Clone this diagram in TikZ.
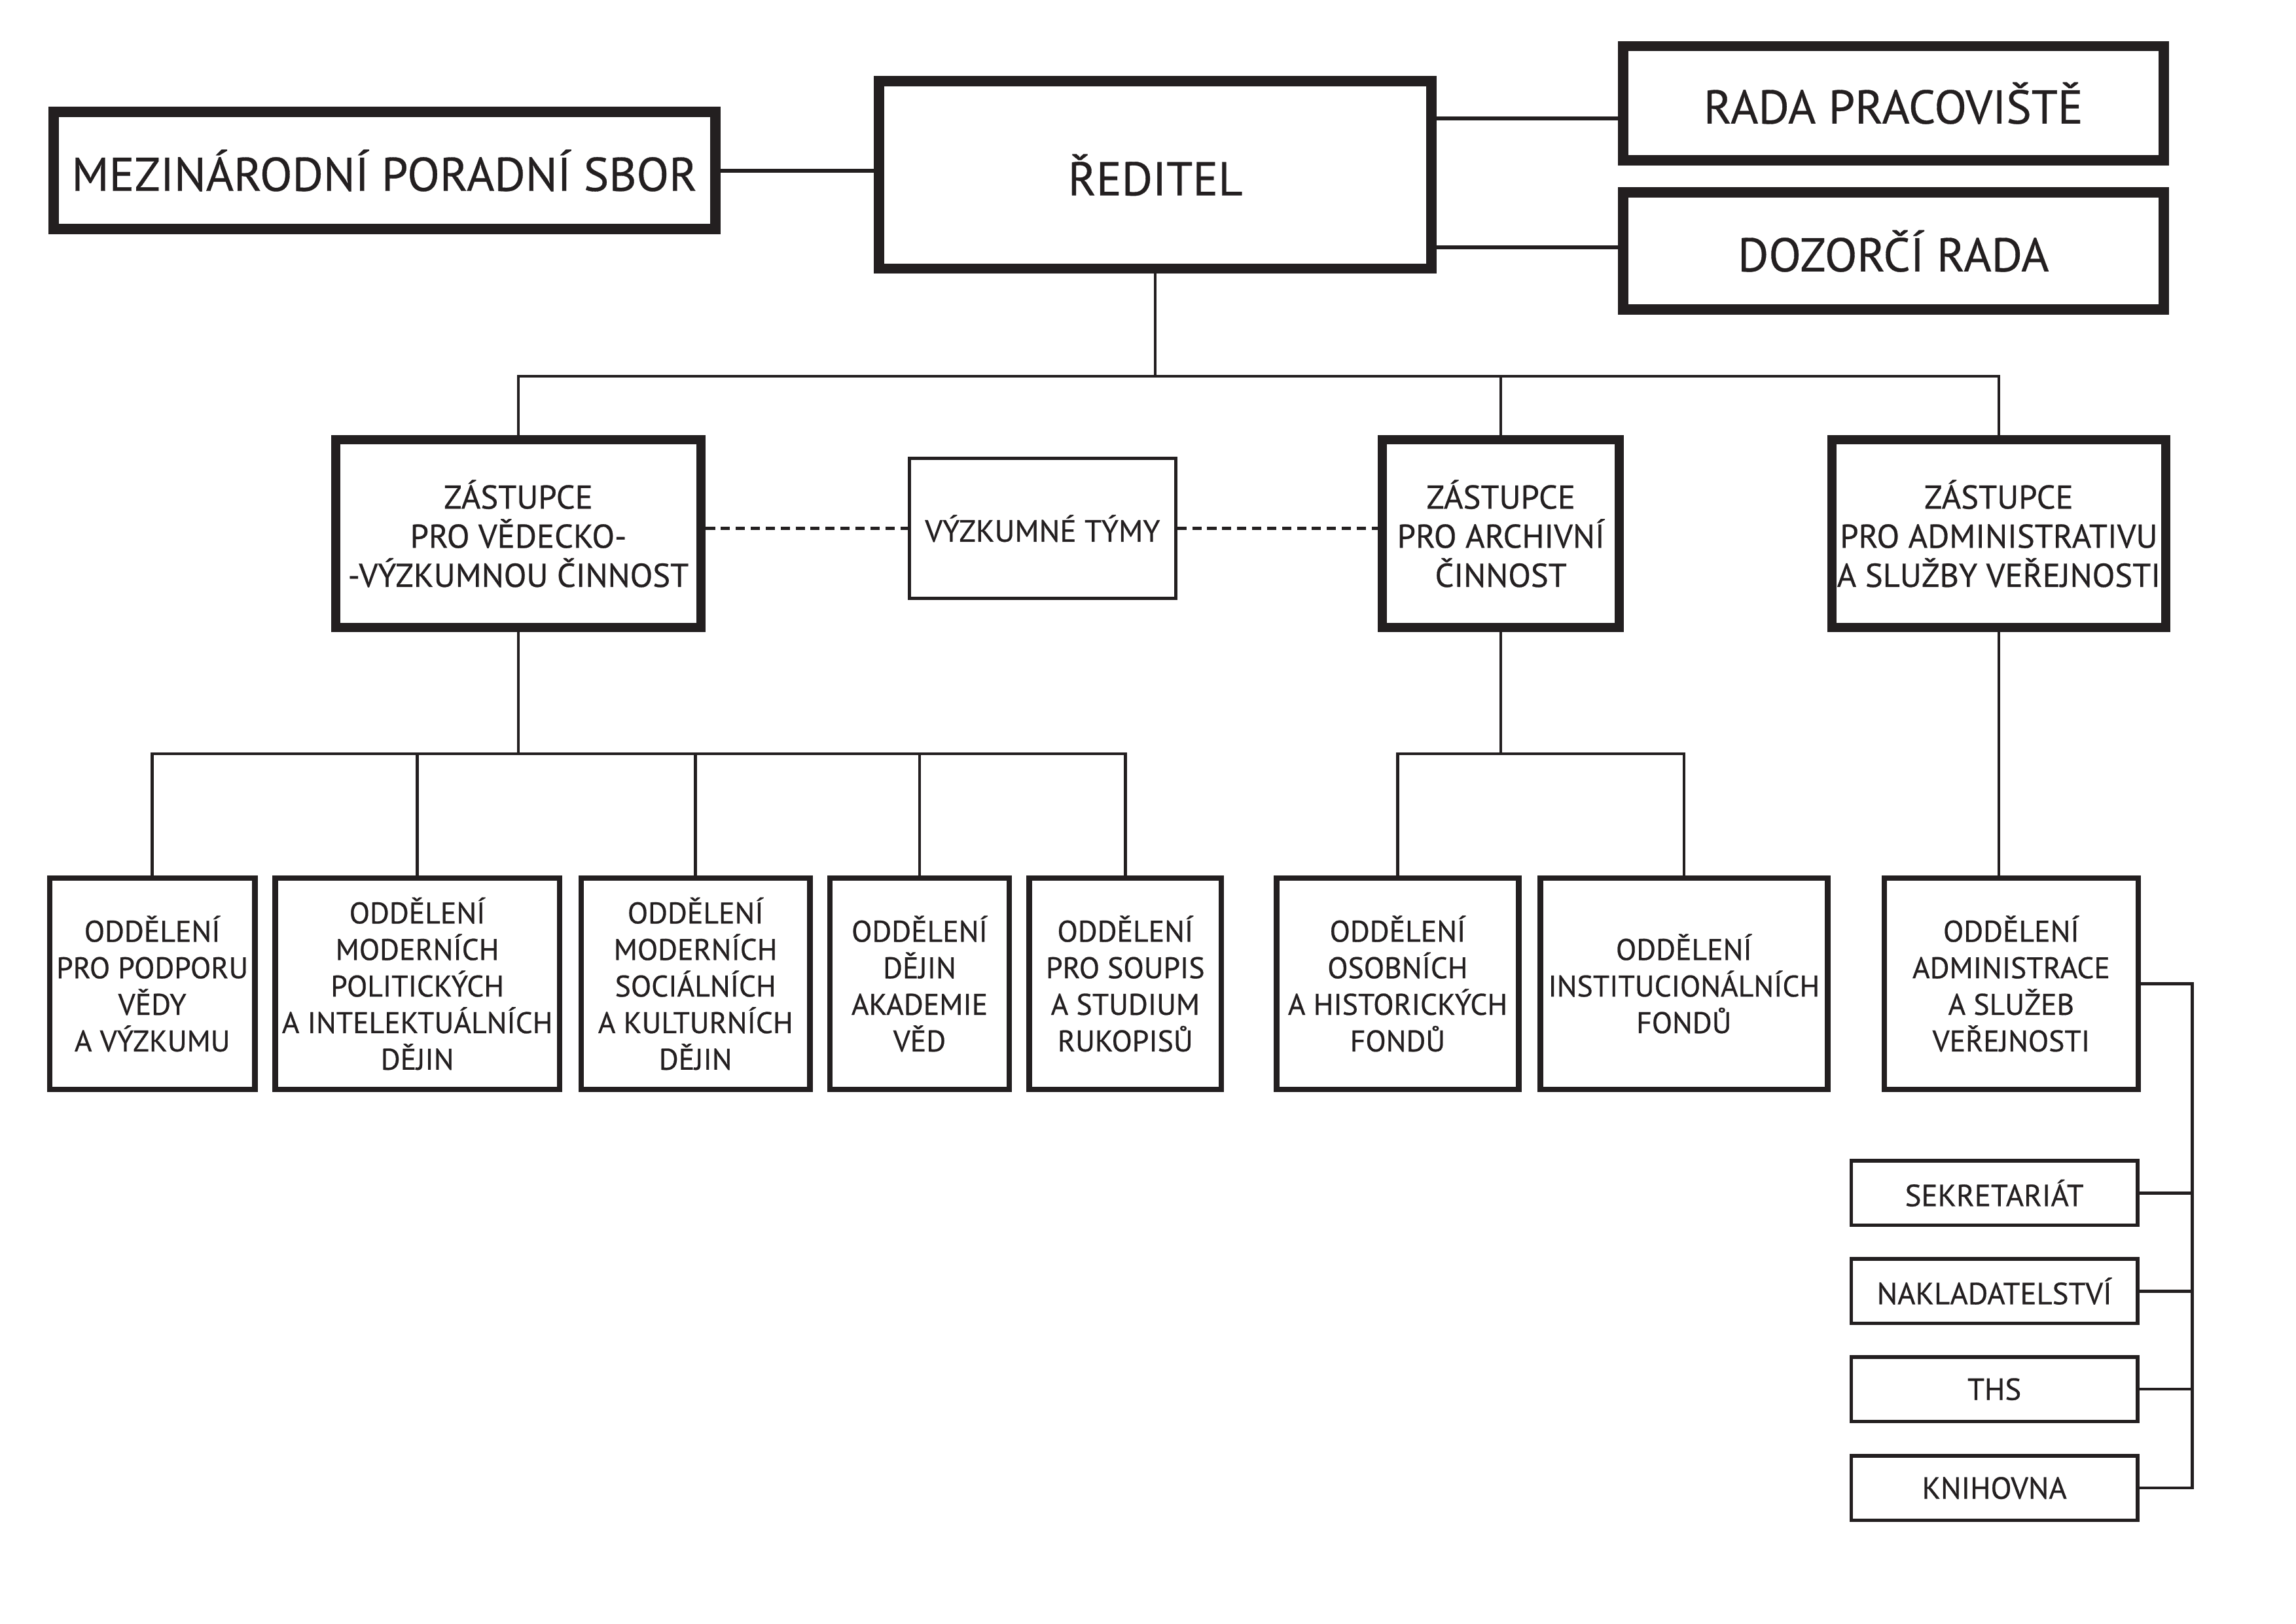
\documentclass[tikz,border=0pt]{standalone}
\usepackage{fontspec}
\setmainfont{PT Sans}[UprightFeatures={FakeBold=0.5}]
\definecolor{tmava}{HTML}{231F20}
\begin{document}
\begin{tikzpicture}
		[x=0.022372cm,y=-0.022372cm,
		box/.style={draw=tmava,text=tmava,rectangle,align=center,inner sep=0pt},
		hlava/.style={box,line width=4.5pt,font=\fontsize{20.6}{24}\selectfont},
		zast/.style={box,line width=4pt,font=\fontsize{14.4}{17}\selectfont,minimum height=81.9pt},
		odd/.style={box,line width=2.4pt,font=\fontsize{13}{15.9}\selectfont,minimum height=91.8pt},
		maly/.style={box,line width=1.6pt,font=\fontsize{13.3}{14}\selectfont,minimum width=124.4pt,minimum height=28pt},
		spoj/.style={draw=tmava,line width=1.3pt},
		silny/.style={draw=tmava,line width=1.7pt},
		carky/.style={draw=tmava,line width=1.5pt,dash pattern=on 4pt off 2.5pt}]
		\useasboundingbox (0,0) rectangle (1568,1109);
		% vedeni
		\node[hlava,minimum width=287.7pt,minimum height=50.9pt] (mps) at (262.5,116.5) {MEZINÁRODNÍ PORADNÍ SBOR};
		\node[hlava,minimum width=240pt,minimum height=81.4pt] (reditel) at (789,119.5) {ŘEDITEL};
		\node[hlava,minimum width=234.9pt,minimum height=49.6pt] (rada) at (1293,70.5) {RADA PRACOVIŠTĚ};
		\node[hlava,minimum width=234.9pt,minimum height=50.9pt] (dozor) at (1293,171.5) {DOZORČÍ RADA};
		% zastupci
		\node[zast,minimum width=159pt] (zvv) at (354,364.5) {ZÁSTUPCE\\PRO VĚDECKO-\\-VÝZKUMNOU ČINNOST};
		\node[box,line width=1.4pt,font=\fontsize{13.4}{14}\selectfont,minimum width=115.7pt,minimum height=61pt] (tymy) at (712,361) {VÝZKUMNÉ TÝMY};
		\node[zast,minimum width=103pt] (zarch) at (1025,364.5) {ZÁSTUPCE\\PRO ARCHIVNÍ\\ČINNOST};
		\node[zast,minimum width=145pt] (zadm) at (1365,364.5) {ZÁSTUPCE\\PRO ADMINISTRATIVU\\A SLUŽBY VEŘEJNOSTI};
		% oddeleni
		\node[odd,minimum width=89.3pt] (odd1) at (104,672) {ODDĚLENÍ\\PRO PODPORU\\VĚDY\\A VÝZKUMU};
		\node[odd,minimum width=123.6pt] (odd2) at (285,672) {ODDĚLENÍ\\MODERNÍCH\\POLITICKÝCH\\A INTELEKTUÁLNÍCH\\DĚJIN};
		\node[odd,minimum width=99.5pt] (odd3) at (475,672) {ODDĚLENÍ\\MODERNÍCH\\SOCIÁLNÍCH\\A KULTURNÍCH\\DĚJIN};
		\node[odd,minimum width=77.8pt] (odd4) at (628,672) {ODDĚLENÍ\\DĚJIN\\AKADEMIE\\VĚD};
		\node[odd,minimum width=83.5pt] (odd5) at (768.5,672) {ODDĚLENÍ\\PRO SOUPIS\\A STUDIUM\\RUKOPISŮ};
		\node[odd,minimum width=105.2pt] (odd6) at (954.5,672) {ODDĚLENÍ\\OSOBNÍCH\\A HISTORICKÝCH\\FONDŮ};
		\node[odd,minimum width=124.9pt] (odd7) at (1150,672) {ODDĚLENÍ\\INSTITUCIONÁLNÍCH\\FONDŮ};
		\node[odd,minimum width=110.3pt] (odd8) at (1373.5,672) {ODDĚLENÍ\\ADMINISTRACE\\A SLUŽEB\\VEŘEJNOSTI};
		% usek administrativy
		\node[maly] (sekr) at (1362,815) {SEKRETARIÁT};
		\node[maly] (nakl) at (1362,882) {NAKLADATELSTVÍ};
		\node[maly] (ths) at (1362,949) {THS};
		\node[maly] (knih) at (1362,1016.5) {KNIHOVNA};
		% spoje nahore
		\draw[silny] (mps.east) -- (mps.east -| reditel.west);
		\draw[silny] ([yshift=24.5pt]reditel.east) -- ([yshift=24.5pt]reditel.east -| rada.west);
		\draw[silny] ([yshift=-31.5pt]reditel.east) -- ([yshift=-31.5pt]reditel.east -| dozor.west);
		\draw[carky] (zvv.east |- tymy.west) -- (tymy.west);
		\draw[carky] (tymy.east) -- (tymy.east -| zarch.west);
		% strom
		\draw[spoj] (reditel.south) -- ++(0,70) coordinate (bus1);
		\draw[spoj] (zvv.north) -- (zvv.north |- bus1) -- (zadm.north |- bus1) -- (zadm.north);
		\draw[spoj] (zarch.north) -- (zarch.north |- bus1);
		\draw[spoj] (zvv.south) -- ++(0,83) coordinate (bus2);
		\draw[spoj] (odd1.north) -- (odd1.north |- bus2) -- (odd5.north |- bus2) -- (odd5.north);
		\foreach \n in {odd2,odd3,odd4}
			\draw[spoj] (\n.north) -- (\n.north |- bus2);
		\draw[spoj] (zarch.south) -- (zarch.south |- bus2);
		\draw[spoj] (odd6.north) -- (odd6.north |- bus2) -- (odd7.north |- bus2) -- (odd7.north);
		\draw[spoj] (zadm.south) -- (zadm.south |- odd8.north);
		\draw[spoj] (odd8.east) -- ++(35,0) coordinate (bus3) -- (bus3 |- knih.east) -- (knih.east);
		\foreach \n in {sekr,nakl,ths}
			\draw[spoj] (\n.east) -- (\n.east -| bus3);
	\end{tikzpicture}
\end{document}
